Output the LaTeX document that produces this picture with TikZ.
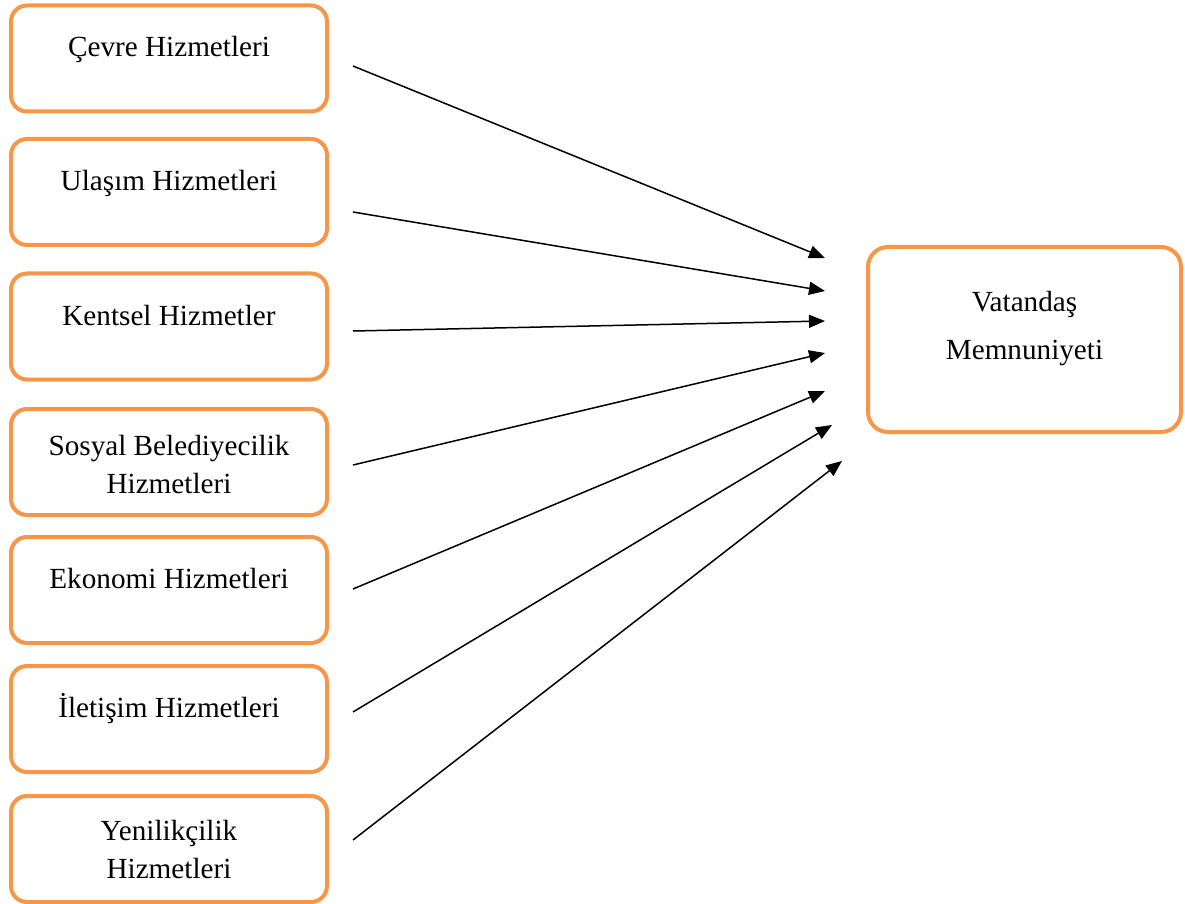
\documentclass[tikz,border=0pt]{standalone}
\usepackage{fontspec}
\setmainfont{Liberation Serif}
\usetikzlibrary{arrows.meta}

\tikzset{
  hizmet/.style={draw=orangeline, line width=2pt, rounded corners=8pt,
    minimum width=158pt, minimum height=53pt, align=center,
    font=\fontsize{14.6}{19}\selectfont, text height=10pt, text depth=11.5pt},
  ikisatir/.style={text height=37.5pt, text depth=6pt},
  etki/.style={-{Triangle[length=8pt,width=6.5pt]}, line width=0.75pt}
}
\definecolor{orangeline}{RGB}{247,150,70}

\begin{document}
\begin{tikzpicture}[x=0.5pt,y=-0.5pt]
  \useasboundingbox (0,0) rectangle (1185,904);

  \node[hizmet]          (cevre)   at (169,58.5)  {Çevre Hizmetleri};
  \node[hizmet]          (ulasim)  at (169,192)   {Ulaşım Hizmetleri};
  \node[hizmet]          (kentsel) at (169,326.5) {Kentsel Hizmetler};
  \node[hizmet,ikisatir] (sosyal)  at (169,462)   {Sosyal Belediyecilik\\Hizmetleri};
  \node[hizmet]          (ekonomi) at (169,590)   {Ekonomi Hizmetleri};
  \node[hizmet]          (iletisim) at (169,719)  {İletişim Hizmetleri};
  \node[hizmet,ikisatir,text height=35.5pt] (yenilik) at (169,849) {Yenilikçilik\\Hizmetleri};

  \node[hizmet, minimum width=156.5pt, minimum height=92.5pt, rounded corners=10pt,
        text height=26pt, text depth=6pt] (memnun) at (1024.5,339.5) {Vatandaş\\[5pt]Memnuniyeti};

  % uc noktalari
  \coordinate (m1) at (825,258);
  \coordinate (m2) at (825,291);
  \coordinate (m3) at (825,321);
  \coordinate (m4) at (825,353);
  \coordinate (m5) at (825,391);
  \coordinate (m6) at (832,425);
  \coordinate (m7) at (842,461);

  \draw[etki] ([xshift=12pt,yshift=-3.75pt]cevre.east)   -- (m1);
  \draw[etki] ([xshift=12pt,yshift=-10pt]ulasim.east)    -- (m2);
  \draw[etki] ([xshift=12pt,yshift=-2.25pt]kentsel.east) -- (m3);
  \draw[etki] ([xshift=12pt,yshift=-1.5pt]sosyal.east)   -- (m4);
  \draw[etki] ([xshift=12pt,yshift=0.5pt]ekonomi.east)   -- (m5);
  \draw[etki] ([xshift=12pt,yshift=3.5pt]iletisim.east)  -- (m6);
  \draw[etki] ([xshift=12pt,yshift=4.5pt]yenilik.east)   -- (m7);
\end{tikzpicture}
\end{document}
